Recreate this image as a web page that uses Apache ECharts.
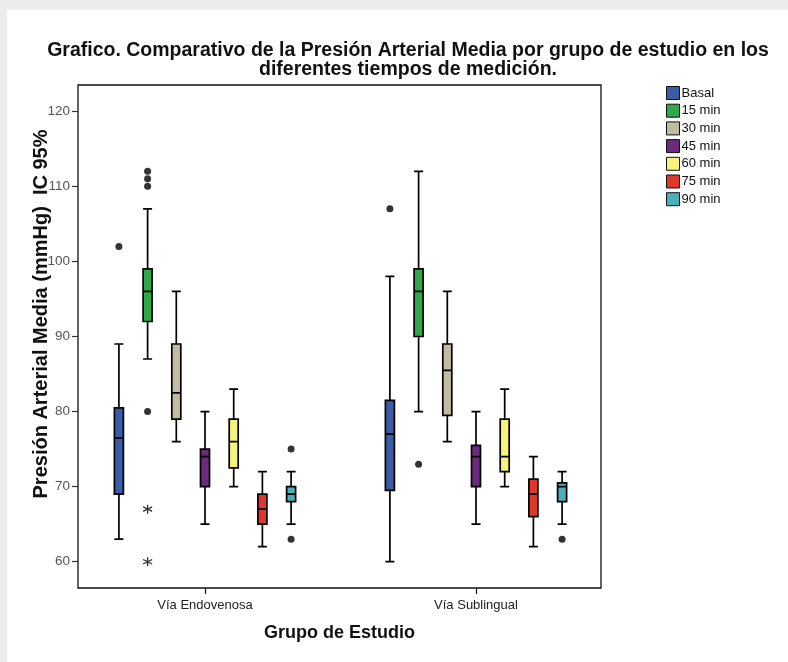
<!DOCTYPE html>
<html>
<head>
<meta charset="utf-8">
<script src="https://cdn.jsdelivr.net/npm/echarts@6/dist/echarts.min.js"></script>
<style>
html,body{margin:0;padding:0;background:#fff;}
#c{width:788px;height:662px;}
</style>
</head>
<body>
<div id="c"></div>
<script>
// ---------- data ----------
const groups = ['Vía Endovenosa', 'Vía Sublingual'];
const times = ['Basal', '15 min', '30 min', '45 min', '60 min', '75 min', '90 min'];
const yTicks = [60, 70, 80, 90, 100, 110, 120];

// [min, Q1, median, Q3, max] per group
const basalBox = [[63, 69, 76.5, 80.5, 89], [60, 69.5, 77, 81.5, 98]];
const min15Box = [[87, 92, 96, 99, 107], [80, 90, 96, 99, 112]];
const min30Box = [[76, 79, 82.5, 89, 96], [76, 79.5, 85.5, 89, 96]];
const min45Box = [[65, 70, 74, 75, 80], [65, 70, 74, 75.5, 80]];
const min60Box = [[70, 72.5, 76, 79, 83], [70, 72, 74, 79, 83]];
const min75Box = [[62, 65, 67, 69, 72], [62, 66, 69, 71, 74]];
const min90Box = [[65, 68, 69, 70, 72], [65, 68, 70, 70.5, 72]];

// outliers [groupIndex, value]
const basalOut = [[0, 102], [1, 107]];
const min15Out = [[0, 110], [0, 111], [0, 112], [0, 80], [1, 73]];
const min15Extreme = [[0, 67], [0, 60]];
const min30Out = [];
const min45Out = [];
const min60Out = [];
const min75Out = [];
const min90Out = [[0, 75], [0, 63], [1, 63]];

const boxes = [basalBox, min15Box, min30Box, min45Box, min60Box, min75Box, min90Box];
const outs = [basalOut, min15Out, min30Out, min45Out, min60Out, min75Out, min90Out];
const extremes = [[], min15Extreme, [], [], [], [], []];

// ---------- styles ----------
const colors = ['#3a5ba5', '#2fa84a', '#c0bca0', '#6c2a7c', '#f6f27c', '#e0372c', '#4cafb7'];
const Y_MIN = 56.5, Y_MAX = 123.5;
const TOP = 85, HEIGHT = 503;
const BASE_LEFT = 69.5, BASE_W = 542, STEP = 28.7;
const starPath = 'path://M0,-5L0,5M-4.33,-2.5L4.33,2.5M-4.33,2.5L4.33,-2.5';
const FONT = 'Liberation Sans';

const grid = [{ left: 78, top: TOP, width: 523, height: HEIGHT, show: true, borderColor: '#111', borderWidth: 1.3, backgroundColor: '#fff', outerBoundsMode: 'none' }];
const xAxis = [{
  gridIndex: 0, type: 'category', data: groups,
  axisLine: { show: false }, axisTick: { show: false }, axisLabel: { show: false },
  name: 'Grupo de Estudio', nameLocation: 'middle', nameGap: 36,
  nameTextStyle: { fontFamily: FONT, fontWeight: 'bold', fontSize: 18, color: '#111' }
}];
const yAxis = [{
  gridIndex: 0, type: 'value', min: Y_MIN, max: Y_MAX,
  axisLine: { show: false },
  splitLine: { show: false },
  axisTick: { show: true, length: 6, customValues: yTicks, lineStyle: { color: '#333', width: 1.2 } },
  axisLabel: { customValues: yTicks, color: '#555', fontSize: 13.5, fontFamily: FONT, margin: 8 }
}];
const series = [];

times.forEach((t, i) => {
  const gi = i + 1;
  grid.push({ left: BASE_LEFT + (i - 3) * STEP, top: TOP, width: BASE_W, height: HEIGHT, outerBoundsMode: 'none' });
  xAxis.push({ gridIndex: gi, type: 'category', data: groups, show: false });
  yAxis.push({ gridIndex: gi, type: 'value', min: Y_MIN, max: Y_MAX, show: false });
  series.push({
    name: t, type: 'boxplot', xAxisIndex: gi, yAxisIndex: gi,
    boxWidth: [9, 9], data: boxes[i],
    itemStyle: { color: colors[i], borderColor: '#000', borderWidth: 1.7 },
    emphasis: { disabled: true }
  });
  if (outs[i].length) series.push({
    type: 'scatter', xAxisIndex: gi, yAxisIndex: gi, data: outs[i],
    symbol: 'circle', symbolSize: 7, itemStyle: { color: '#000' }, z: 5
  });
  if (extremes[i].length) series.push({
    type: 'scatter', xAxisIndex: gi, yAxisIndex: gi, data: extremes[i],
    symbol: starPath, symbolSize: 9,
    itemStyle: { color: 'none', borderColor: '#000', borderWidth: 1.3 }, z: 5
  });
});

// labels axis grid
grid.push({ left: BASE_LEFT, top: TOP, width: BASE_W, height: HEIGHT, outerBoundsMode: 'none' });
xAxis.push({
  gridIndex: 8, type: 'category', data: groups,
  axisLine: { show: false },
  axisTick: { show: true, alignWithLabel: true, length: 6, lineStyle: { color: '#111', width: 1.2 } },
  axisLabel: { color: '#222', fontSize: 13, fontFamily: FONT, margin: 11 }
});
yAxis.push({ gridIndex: 8, type: 'value', min: Y_MIN, max: Y_MAX, show: false });

const chart = echarts.init(document.getElementById('c'));
chart.setOption({
  animation: false,
  backgroundColor: '#fff',
  title: {
    text: 'Grafico. Comparativo de la Presión Arterial Media por grupo de estudio en los\ndiferentes tiempos de medición.',
    left: 403, top: 36, textAlign: 'center',
    textStyle: { fontFamily: FONT, fontWeight: 'bold', fontSize: 19.5, lineHeight: 19, color: '#111' }
  },
  legend: {
    data: times.map((t, i) => ({ name: t, itemStyle: { color: colors[i], borderColor: '#111', borderWidth: 1 } })),
    orient: 'vertical', left: 661, top: 81,
    icon: 'rect', itemWidth: 13, itemHeight: 13, itemGap: 3.7,
    textStyle: { fontFamily: FONT, fontSize: 13, color: '#111', padding: [0, 0, 0, -3] },
    selectedMode: false
  },
  graphic: [
    { type: 'rect', shape: { x: 0, y: 0, width: 788, height: 10 }, style: { fill: '#ececec' }, silent: true },
    { type: 'rect', shape: { x: 0, y: 0, width: 7, height: 662 }, style: { fill: '#ececec' }, silent: true },
    {
      type: 'text', x: 41, y: 314, rotation: Math.PI / 2,
      style: {
        text: 'Presión Arterial Media (mmHg)  IC 95%', align: 'center', verticalAlign: 'middle',
        font: 'bold 20px "Liberation Sans"', fill: '#111'
      }, silent: true
    }
  ],
  grid, xAxis, yAxis, series
});
</script>
</body>
</html>
